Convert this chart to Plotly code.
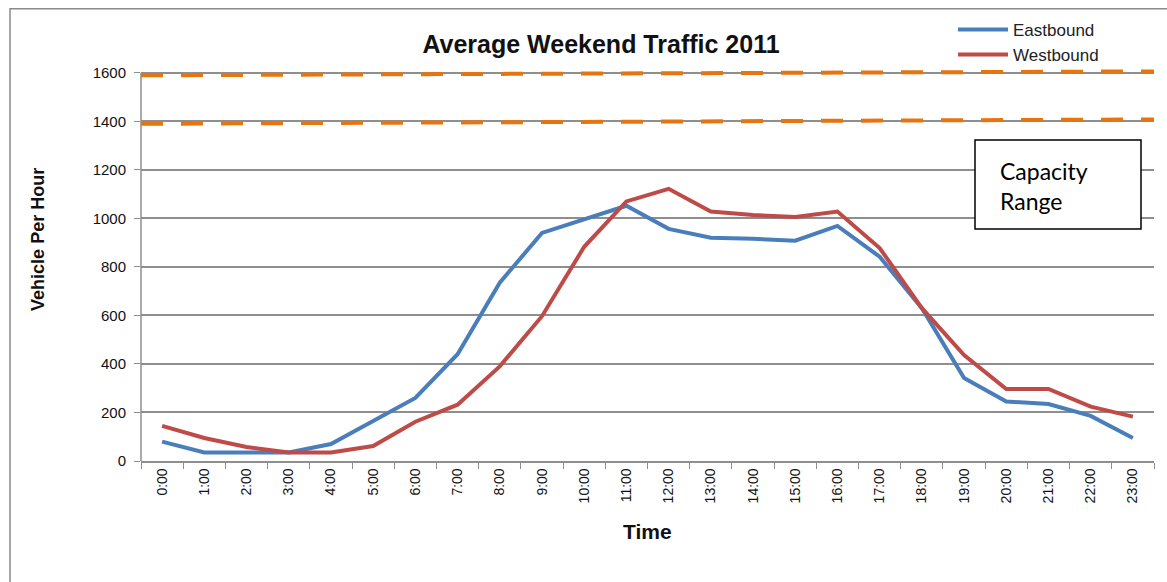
import plotly.graph_objects as go

times = [f"{h}:00" for h in range(24)]
eastbound = [80, 35, 35, 35, 70, 165, 260, 440, 735, 940, 995, 1052, 957, 920, 916, 908, 969, 842, 630, 342, 245, 235, 186, 95]
westbound = [145, 95, 58, 35, 35, 62, 162, 232, 390, 597, 883, 1070, 1122, 1028, 1014, 1006, 1028, 878, 630, 437, 297, 297, 224, 183]
capacity_high = [1590, 1606]
capacity_low = [1390, 1408]
capacity_pos = [0, 1]
yticks = [0, 200, 400, 600, 800, 1000, 1200, 1400, 1600]
y_axis_span = [0, 1600]
y_range = [0, 1620]

W, H = 1167, 582
L, R, B = 141, 1154, 461
T = B - (B - 73) * y_range[1] / 1600  # top of plot area so that 1600 sits at y=73

def px(x):
    return (x - L) / (R - L)

def py(y):
    return (B - y) / (B - T)

BLUE = "#4A7EBB"
RED = "#BE4B48"
ORANGE = "#E8740F"
GRID = "#8E8E8E"

fig = go.Figure()
fig.add_trace(go.Scatter(x=times, y=eastbound, mode="lines", name="Eastbound",
                         line=dict(color=BLUE, width=4)))
fig.add_trace(go.Scatter(x=times, y=westbound, mode="lines", name="Westbound",
                         line=dict(color=RED, width=4)))
for cap in (capacity_high, capacity_low):
    fig.add_trace(go.Scatter(x=capacity_pos, y=cap, mode="lines", xaxis="x2", showlegend=False,
                             line=dict(color=ORANGE, width=4, dash="22px,18px")))

fig.update_layout(
    width=W, height=H,
    margin=dict(l=L, r=W - R, t=T, b=H - B),
    paper_bgcolor="white", plot_bgcolor="white",
    font=dict(family="Liberation Sans, Arial, sans-serif", color="#000000"),
    title=dict(text="<b>Average Weekend Traffic 2011</b>", x=601 / W, xanchor="center",
               xref="container", y=1 - 44 / H, yanchor="middle", yref="container",
               font=dict(size=25, color="#111111")),
    xaxis=dict(type="category", range=[-0.5, 23.5], showgrid=False, showline=True,
               linecolor=GRID, linewidth=1.5, ticks="outside", ticklen=6, tickcolor=GRID,
               tickangle=-90, tickfont=dict(size=14, color="#111111"), zeroline=False,
               tickson="boundaries"),
    xaxis2=dict(overlaying="x", range=[0, 1], visible=False),
    yaxis=dict(range=y_range, tickvals=yticks, showgrid=True, gridcolor=GRID, gridwidth=1.5,
               showline=False, ticks="outside", ticklen=6, ticklabelstandoff=5,
               tickcolor=GRID, tickfont=dict(size=15, color="#111111"), zeroline=False),
    legend=dict(x=px(953), y=py(12), xanchor="left", yanchor="top", bgcolor="rgba(0,0,0,0)",
                font=dict(size=17, color="#222222"), tracegroupgap=0, itemwidth=50),
    showlegend=True,
)

# y axis line from 0 to 1600 only
fig.add_shape(type="line", xref="paper", yref="y", x0=0, x1=0, y0=y_axis_span[0], y1=y_axis_span[1],
              line=dict(color=GRID, width=1.5))

fig.add_annotation(text="<b>Vehicle Per Hour</b>", textangle=-90, x=px(38), y=py(240),
                   xref="paper", yref="paper", xanchor="center", yanchor="middle",
                   showarrow=False, font=dict(size=18, color="#111111"))
fig.add_annotation(text="<b>Time</b>", x=px(647), y=py(531), xref="paper", yref="paper",
                   xanchor="center", yanchor="middle",
                   showarrow=False, font=dict(size=21, color="#111111"))
fig.add_shape(type="rect", xref="paper", yref="paper", x0=px(975), x1=px(1141), y0=py(229), y1=py(140),
              line=dict(color="black", width=1.5), fillcolor="white", layer="above")
fig.add_annotation(text="Capacity<br>Range", x=px(998), y=py(186), xref="paper", yref="paper",
                   xanchor="left", yanchor="middle", align="left", showarrow=False,
                   font=dict(family="Lato, Open Sans, sans-serif", size=23, color="#000000"))
fig.add_shape(type="rect", xref="paper", yref="paper", x0=px(10), x1=px(1200), y0=py(620), y1=py(9),
              line=dict(color="#8a8a8a", width=1.5), layer="below")

fig.write_html("out.html", config={"displayModeBar": False},
               post_script="document.body.style.margin='0';")
